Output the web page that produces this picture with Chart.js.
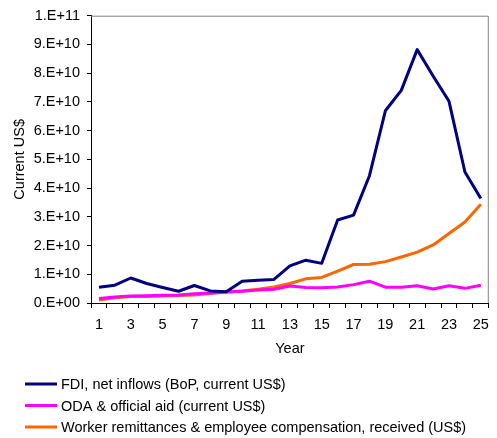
<!DOCTYPE html>
<html>
<head>
<meta charset="utf-8">
<script src="https://cdn.jsdelivr.net/npm/chart.js@4"></script>
<style>
  body { margin: 0; background: #fff; }
  #wrap { width: 497px; height: 438px; position: relative; }
</style>
</head>
<body>
<div id="wrap"><canvas id="chart"></canvas></div>
<script>
// Years 1..25 and the three series (current US$)
const years = [1,2,3,4,5,6,7,8,9,10,11,12,13,14,15,16,17,18,19,20,21,22,23,24,25];
const fdi = [0.55e10, 0.62e10, 0.87e10, 0.68e10, 0.54e10, 0.41e10, 0.61e10, 0.42e10, 0.39e10, 0.76e10,
             0.79e10, 0.82e10, 1.29e10, 1.49e10, 1.38e10, 2.89e10, 3.06e10, 4.43e10, 6.69e10, 7.40e10,
             8.82e10, 7.90e10, 7.02e10, 4.56e10, 3.64e10];
const oda = [0.16e10, 0.21e10, 0.24e10, 0.25e10, 0.27e10, 0.28e10, 0.32e10, 0.35e10, 0.38e10, 0.41e10,
             0.45e10, 0.48e10, 0.59e10, 0.54e10, 0.53e10, 0.56e10, 0.64e10, 0.76e10, 0.55e10, 0.55e10,
             0.60e10, 0.49e10, 0.60e10, 0.51e10, 0.62e10];
const remit = [0.10e10, 0.18e10, 0.23e10, 0.23e10, 0.24e10, 0.26e10, 0.28e10, 0.33e10, 0.38e10, 0.42e10,
               0.48e10, 0.56e10, 0.68e10, 0.84e10, 0.89e10, 1.11e10, 1.34e10, 1.35e10, 1.44e10, 1.60e10,
               1.77e10, 2.02e10, 2.42e10, 2.82e10, 3.44e10];
const seriesNames = ['FDI, net inflows (BoP, current US$)', 'ODA & official aid (current US$)',
                     'Worker remittances & employee compensation, received (US$)'];

const FONT = 'Liberation Sans, Arial, sans-serif';
const FSIZE = 14.5;

// "1.E+10" style labels like the spreadsheet
function sciLabel(v) {
    if (v === 0) return '0.E+00';
    const exp = Math.floor(Math.log10(v) + 1e-9);
    const m = Math.round(v / Math.pow(10, exp));
    return m + '.E+' + String(exp).padStart(2, '0');
}

// gray frame on top/right of the plot area
const framePlugin = {
    id: 'frame',
    beforeDatasetsDraw(chart) {
        const a = chart.chartArea, ctx = chart.ctx;
        ctx.save();
        ctx.strokeStyle = '#808080';
        ctx.lineWidth = 1;
        ctx.beginPath();
        ctx.moveTo(a.left, a.top + 0.5);
        ctx.lineTo(a.right - 0.5, a.top + 0.5);
        ctx.lineTo(a.right - 0.5, a.bottom);
        ctx.stroke();
        ctx.restore();
    }
};

// stacked legend under the axis title
const legendPlugin = {
    id: 'stackLegend',
    afterDraw(chart) {
        const ctx = chart.ctx;
        ctx.save();
        ctx.font = FSIZE + 'px ' + FONT;
        ctx.textBaseline = 'middle';
        ctx.fillStyle = '#000';
        chart.data.datasets.forEach((ds, i) => {
            const y = 384 + i * 21.5;
            ctx.strokeStyle = ds.borderColor;
            ctx.lineWidth = 3;
            ctx.beginPath();
            ctx.moveTo(25, y);
            ctx.lineTo(57, y);
            ctx.stroke();
            ctx.fillText(ds.label, 61, y + 1);
        });
        ctx.restore();
    }
};

const ctx = document.getElementById('chart').getContext('2d');
new Chart(ctx, {
    type: 'line',
    data: {
        labels: years,
        datasets: [
            { label: seriesNames[0], data: fdi, borderColor: '#000080' },
            { label: seriesNames[1], data: oda, borderColor: '#FF00FF' },
            { label: seriesNames[2], data: remit, borderColor: '#FF6600' }
        ]
    },
    options: {
        responsive: true,
        maintainAspectRatio: false,
        animation: false,
        layout: { padding: { left: 0, right: 5, top: 12, bottom: 80 } },
        elements: {
            line: { borderWidth: 3, tension: 0, borderJoinStyle: 'round' },
            point: { radius: 0 }
        },
        plugins: {
            legend: { display: false },
            tooltip: { enabled: false }
        },
        scales: {
            x: {
                offset: true,
                grid: { offset: true, drawOnChartArea: false, tickLength: 5, color: '#000' },
                border: { color: '#000', width: 1 },
                ticks: {
                    autoSkip: false, maxRotation: 0, padding: 8, color: '#000',
                    font: { family: FONT, size: FSIZE },
                    callback: function(val, i) { return i % 2 === 0 ? this.getLabelForValue(val) : ''; }
                },
                title: { display: true, text: 'Year', color: '#000', font: { family: FONT, size: FSIZE }, padding: { top: 4, bottom: 0 } },
                afterFit(s) { s.height = 55; }
            },
            y: {
                min: 0, max: 1e11,
                grid: { drawOnChartArea: false, tickLength: 4, color: '#000' },
                border: { color: '#000', width: 1 },
                ticks: {
                    stepSize: 1e10, padding: 7, color: '#000',
                    font: { family: FONT, size: FSIZE },
                    callback: v => sciLabel(v)
                },
                title: { display: true, text: 'Current US$', color: '#000', font: { family: FONT, size: FSIZE }, padding: { top: 11, bottom: 0 } },
                afterFit(s) { s.width = 91; }
            }
        }
    },
    plugins: [framePlugin, legendPlugin]
});
</script>
</body>
</html>
